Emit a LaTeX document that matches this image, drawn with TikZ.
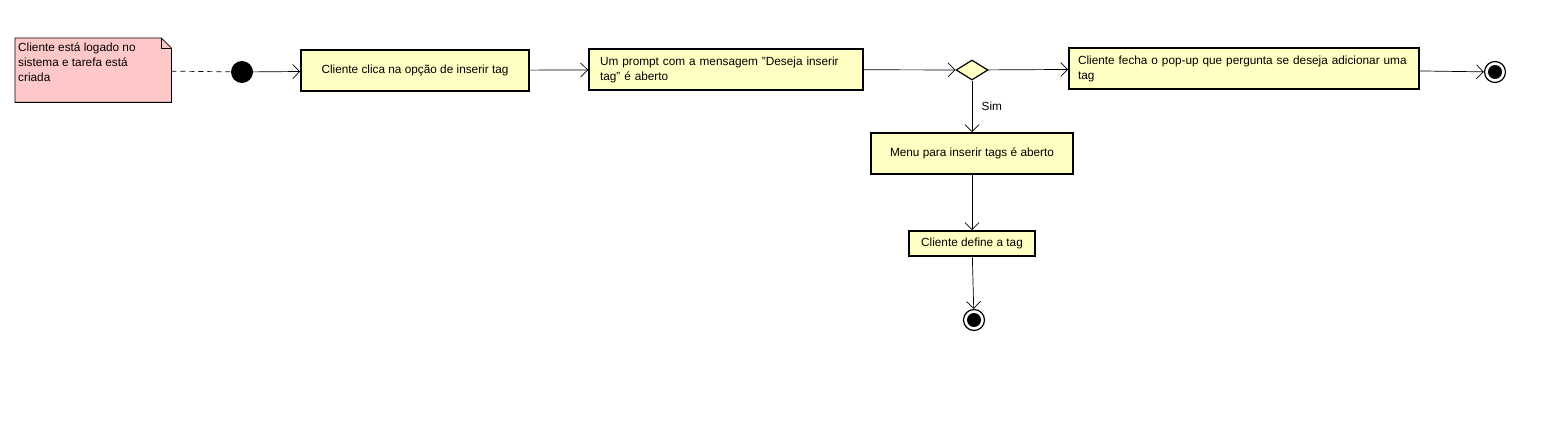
\documentclass[tikz,border=0pt]{standalone}
\usepackage{fontspec}
\setmainfont{Liberation Sans}
\usetikzlibrary{arrows.meta, shapes.geometric, backgrounds}

\definecolor{acaofill}{HTML}{FFFFC3}
\definecolor{notafill}{HTML}{FFC8C8}

\begin{document}
\begin{tikzpicture}[
  x=1pt, y=-1pt,
  every node/.style={font=\fontsize{11.8}{15}\selectfont},
  acao/.style={draw, line width=1.6pt, fill=acaofill, inner xsep=8pt, inner ysep=0pt, minimum height=41pt},
  inicio/.style={circle, fill=black, minimum size=22pt, inner sep=0pt},
  fim/.style={circle, draw, line width=1.2pt, fill=white, minimum size=21pt, inner sep=0pt,
    path picture={\fill[black] (path picture bounding box.center) circle (7pt);}},
  decisao/.style={diamond, draw, line width=1.2pt, fill=acaofill, minimum width=32pt, minimum height=20pt, inner sep=0pt},
  arrow/.style={-{Straight Barb[length=7pt, width=14pt]}, line width=0.7pt}
]
\useasboundingbox (0,0) rectangle (1545,425);

% nota
\node (nota) [minimum width=156pt, minimum height=64pt, inner sep=0pt, anchor=north west,
  label={[anchor=north west, align=left, inner xsep=3pt, inner ysep=5pt]north west:Cliente está logado no\\sistema e tarefa está\\criada}] at (15,38) {};
\begin{scope}[on background layer]
\fill[notafill] (nota.south west) -- (nota.north west) -- ([xshift=-10pt]nota.north east)
  -- ([yshift=-10pt]nota.north east) -- (nota.south east) -- cycle;
\draw[line width=0.8pt] (nota.south west) -- (nota.north west) -- ([xshift=-10pt]nota.north east)
  -- ([yshift=-10pt]nota.north east) -- (nota.south east) -- cycle;
\draw[line width=0.6pt] ([xshift=-10pt]nota.north east) |- ([yshift=-10pt]nota.north east);
\end{scope}

% fluxo principal
\node (ini) [inicio] at (242,72) {};
\node (clica) [acao, minimum width=228pt] at (415,70.5) {Cliente clica na opção de inserir tag};
\node (prompt) [acao, inner xsep=11pt, text width=252pt, align=left] at (726,69.5) {Um prompt com a mensagem "Deseja inserir\\tag" é aberto};
\node (dec) [decisao] at (972,70) {};
\node (fecha) [acao, inner xsep=9pt, text width=332pt, align=left] at (1244,68.5) {Cliente fecha o pop-up que pergunta se deseja adicionar uma\\tag};
\node (fim1) [fim] at (1495,72) {};

% ramo sim
\node (menu) [acao, minimum width=202pt] at (972,153.5) {Menu para inserir tags é aberto};
\node (define) [acao, minimum width=126pt, minimum height=25pt] at (972,243.5) {Cliente define a tag};
\node (fim2) [fim] at (974,320) {};

\draw[dash pattern=on 5pt off 4pt, line width=0.7pt] (nota) -- (ini);
\draw[arrow] (ini) -- (clica);
\draw[arrow] (clica) -- (prompt);
\draw[arrow] (prompt) -- (dec);
\draw[arrow] (dec) -- (fecha);
\draw[arrow] (fecha) -- (fim1);
\draw[arrow] (dec) -- node[right=6pt] {Sim} (menu);
\draw[arrow] (menu) -- (define);
\draw[arrow] (define) -- (fim2);

\end{tikzpicture}
\end{document}
